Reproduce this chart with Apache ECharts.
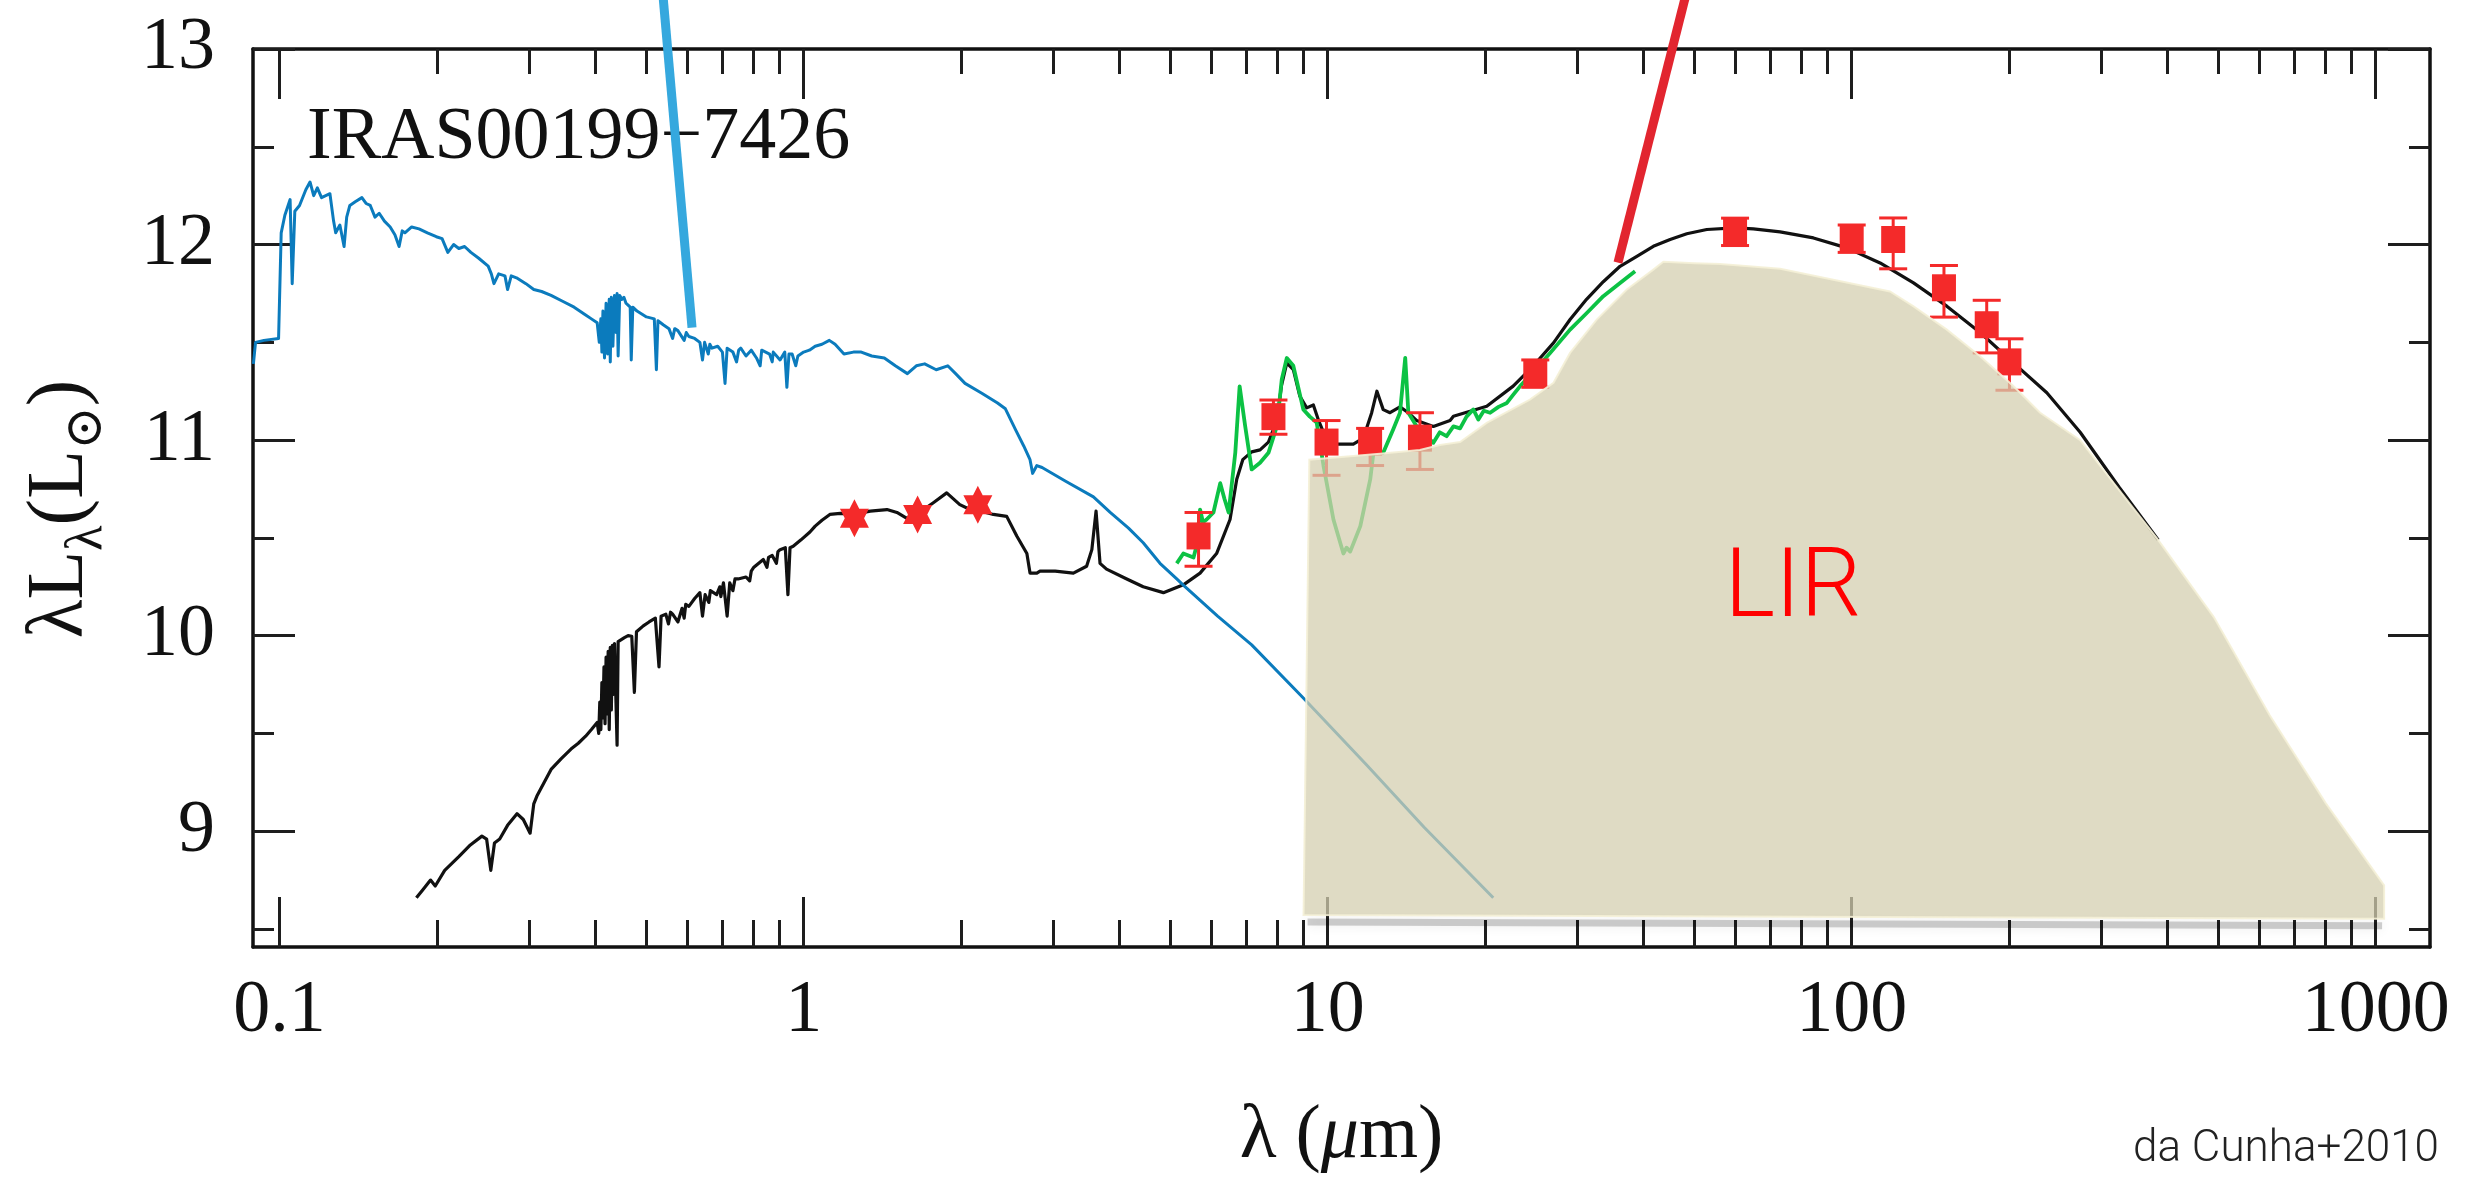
<!DOCTYPE html>
<html>
<head>
<meta charset="utf-8">
<title>IRAS00199-7426 SED</title>
<script src="https://cdn.jsdelivr.net/npm/echarts@6/dist/echarts.min.js"></script>
<style>
  html, body { margin: 0; padding: 0; background: #fff; }
  #chart { width: 2475px; height: 1178px; }
</style>
</head>
<body>
<div id="chart"></div>
<script>
// x is log10(wavelength / micron), y is log10(lambda L_lambda / L_sun).

// Tick wavelengths (micron)
const xMajorWavelengths = [0.1, 1, 10, 100, 1000];
const xMinorWavelengths = [0.2, 0.3, 0.4, 0.5, 0.6, 0.7, 0.8, 0.9,
  2, 3, 4, 5, 6, 7, 8, 9, 20, 30, 40, 50, 60, 70, 80, 90,
  200, 300, 400, 500, 600, 700, 800, 900];
const yMajorTicks = [9, 10, 11, 12, 13];
const yMinorTicks = [8.5, 9.5, 10.5, 11.5, 12.5];

// Unattenuated stellar emission [log lambda, log lambda L_lambda]
const stellarIntrinsic = [
  [-1.050, 11.39], [-1.046, 11.50], [-1.030, 11.51], [-1.002, 11.52], [-0.997, 12.06], [-0.990, 12.15],
  [-0.980, 12.23], [-0.976, 11.80], [-0.971, 12.17], [-0.962, 12.20], [-0.950, 12.28], [-0.942, 12.32],
  [-0.935, 12.25], [-0.928, 12.29], [-0.920, 12.24], [-0.904, 12.26], [-0.897, 12.12], [-0.893, 12.06],
  [-0.885, 12.10], [-0.877, 11.99], [-0.872, 12.14], [-0.866, 12.20], [-0.855, 12.22], [-0.843, 12.24],
  [-0.835, 12.21], [-0.827, 12.20], [-0.818, 12.14], [-0.810, 12.16], [-0.800, 12.12], [-0.789, 12.09],
  [-0.780, 12.05], [-0.772, 11.99], [-0.766, 12.07], [-0.761, 12.06], [-0.748, 12.09], [-0.734, 12.08],
  [-0.718, 12.06], [-0.701, 12.04], [-0.690, 12.03], [-0.679, 11.96], [-0.668, 12.00], [-0.658, 11.98],
  [-0.647, 11.99], [-0.635, 11.96], [-0.620, 11.93], [-0.602, 11.89], [-0.596, 11.85], [-0.591, 11.80],
  [-0.582, 11.85], [-0.570, 11.84], [-0.565, 11.77], [-0.558, 11.84], [-0.548, 11.83], [-0.530, 11.80],
  [-0.515, 11.77], [-0.500, 11.76], [-0.482, 11.74], [-0.460, 11.71], [-0.438, 11.68], [-0.416, 11.64],
  [-0.405, 11.62], [-0.394, 11.60], [-0.390, 11.50], [-0.387, 11.62], [-0.385, 11.45], [-0.383, 11.66],
  [-0.380, 11.42], [-0.377, 11.70], [-0.374, 11.44], [-0.371, 11.72], [-0.369, 11.40], [-0.367, 11.73],
  [-0.364, 11.48], [-0.361, 11.74], [-0.358, 11.55], [-0.356, 11.75], [-0.354, 11.43], [-0.351, 11.74],
  [-0.347, 11.72], [-0.343, 11.73], [-0.339, 11.70], [-0.335, 11.69], [-0.331, 11.68], [-0.329, 11.41],
  [-0.326, 11.68], [-0.318, 11.66], [-0.300, 11.63], [-0.285, 11.62], [-0.281, 11.36], [-0.278, 11.61],
  [-0.268, 11.59], [-0.257, 11.57], [-0.250, 11.52], [-0.246, 11.57], [-0.240, 11.56], [-0.228, 11.51],
  [-0.224, 11.55], [-0.219, 11.53], [-0.208, 11.52], [-0.198, 11.50], [-0.193, 11.41], [-0.189, 11.50],
  [-0.182, 11.44], [-0.179, 11.49], [-0.175, 11.47], [-0.164, 11.48], [-0.155, 11.45], [-0.150, 11.29],
  [-0.146, 11.47], [-0.135, 11.45], [-0.128, 11.40], [-0.124, 11.46], [-0.120, 11.47], [-0.110, 11.43],
  [-0.100, 11.46], [-0.090, 11.42], [-0.083, 11.38], [-0.080, 11.46], [-0.077, 11.47], [-0.065, 11.44],
  [-0.060, 11.40], [-0.058, 11.45], [-0.055, 11.46], [-0.045, 11.41], [-0.036, 11.45], [-0.032, 11.27],
  [-0.028, 11.44], [-0.022, 11.44], [-0.015, 11.38], [-0.011, 11.43], [0.000, 11.45], [0.011, 11.46],
  [0.022, 11.48], [0.035, 11.49], [0.049, 11.51], [0.060, 11.49], [0.077, 11.44], [0.095, 11.45],
  [0.110, 11.45], [0.130, 11.43], [0.154, 11.42], [0.175, 11.38], [0.198, 11.34], [0.215, 11.38],
  [0.231, 11.39], [0.253, 11.36], [0.275, 11.38], [0.290, 11.34], [0.308, 11.29], [0.340, 11.24],
  [0.370, 11.19], [0.385, 11.16], [0.405, 11.05], [0.420, 10.97], [0.432, 10.90], [0.437, 10.83],
  [0.445, 10.87], [0.455, 10.86], [0.500, 10.79], [0.553, 10.71], [0.585, 10.63], [0.620, 10.55],
  [0.648, 10.475], [0.680, 10.37], [0.712, 10.29], [0.724, 10.26], [0.790, 10.10], [0.855, 9.953],
  [0.954, 9.68], [1.074, 9.34], [1.184, 9.02], [1.316, 8.66]
];

// Best-fit attenuated model (stars + dust)
const totalModel = [
  [-0.739, 8.66], [-0.727, 8.70], [-0.712, 8.75], [-0.703, 8.72], [-0.685, 8.80], [-0.658, 8.87],
  [-0.636, 8.93], [-0.614, 8.975], [-0.605, 8.96], [-0.597, 8.80], [-0.590, 8.94], [-0.580, 8.96],
  [-0.565, 9.03], [-0.547, 9.09], [-0.535, 9.06], [-0.522, 8.99], [-0.515, 9.14], [-0.509, 9.18],
  [-0.495, 9.25], [-0.482, 9.316], [-0.463, 9.37], [-0.444, 9.42], [-0.430, 9.45], [-0.416, 9.486],
  [-0.405, 9.52], [-0.394, 9.556], [-0.391, 9.50], [-0.389, 9.66], [-0.387, 9.52], [-0.385, 9.76],
  [-0.383, 9.58], [-0.381, 9.84], [-0.379, 9.55], [-0.377, 9.89], [-0.375, 9.60], [-0.373, 9.92],
  [-0.371, 9.52], [-0.369, 9.94], [-0.367, 9.62], [-0.365, 9.95], [-0.363, 9.70], [-0.361, 9.96],
  [-0.358, 9.97], [-0.356, 9.44], [-0.354, 9.97], [-0.348, 9.98], [-0.342, 9.99], [-0.335, 10.00],
  [-0.328, 9.997], [-0.323, 9.71], [-0.319, 10.02], [-0.306, 10.05], [-0.295, 10.07], [-0.283, 10.09],
  [-0.276, 9.84], [-0.272, 10.10], [-0.263, 10.11], [-0.258, 10.06], [-0.254, 10.12], [-0.250, 10.11],
  [-0.240, 10.07], [-0.232, 10.14], [-0.228, 10.09], [-0.225, 10.16], [-0.219, 10.15], [-0.208, 10.19],
  [-0.198, 10.22], [-0.193, 10.10], [-0.188, 10.21], [-0.181, 10.17], [-0.178, 10.23], [-0.175, 10.24],
  [-0.166, 10.21], [-0.160, 10.25], [-0.158, 10.20], [-0.153, 10.27], [-0.146, 10.10], [-0.141, 10.27],
  [-0.135, 10.23], [-0.131, 10.29], [-0.125, 10.29], [-0.110, 10.30], [-0.103, 10.28], [-0.100, 10.33],
  [-0.095, 10.35], [-0.077, 10.39], [-0.070, 10.35], [-0.067, 10.40], [-0.060, 10.41], [-0.052, 10.37],
  [-0.049, 10.43], [-0.045, 10.44], [-0.035, 10.45], [-0.030, 10.21], [-0.026, 10.45], [-0.020, 10.457],
  [-0.005, 10.49], [0.012, 10.53], [0.022, 10.56], [0.035, 10.59], [0.050, 10.62], [0.070, 10.625],
  [0.095, 10.62], [0.127, 10.637], [0.159, 10.645], [0.178, 10.63], [0.197, 10.60], [0.216, 10.62],
  [0.2475, 10.68], [0.273, 10.73], [0.298, 10.67], [0.3175, 10.645], [0.333, 10.64], [0.362, 10.62],
  [0.3875, 10.61], [0.4067, 10.51], [0.426, 10.42], [0.432, 10.32], [0.445, 10.32], [0.451, 10.33],
  [0.480, 10.33], [0.5147, 10.32], [0.540, 10.355], [0.550, 10.44], [0.558, 10.637], [0.5656, 10.37],
  [0.578, 10.34], [0.6166, 10.29], [0.648, 10.25], [0.6865, 10.22], [0.7246, 10.26], [0.7565, 10.32],
  [0.788, 10.42], [0.8137, 10.594], [0.8265, 10.80], [0.838, 10.90], [0.855, 10.94], [0.871, 10.95],
  [0.887, 10.99], [0.903, 11.10], [0.912, 11.28], [0.922, 11.395], [0.9345, 11.36], [0.947, 11.224],
  [0.960, 11.165], [0.9727, 11.18], [0.982, 11.105], [0.992, 11.04], [1.005, 10.99], [1.017, 10.98],
  [1.049, 10.98], [1.068, 11.01], [1.084, 11.14], [1.094, 11.25], [1.106, 11.156], [1.119, 11.14],
  [1.138, 11.17], [1.154, 11.14], [1.170, 11.10], [1.2017, 11.07], [1.2336, 11.10], [1.240, 11.122],
  [1.3036, 11.173], [1.354, 11.276], [1.3926, 11.38], [1.431, 11.497], [1.4626, 11.617], [1.494, 11.72],
  [1.526, 11.81], [1.558, 11.889], [1.590, 11.94], [1.6215, 11.991], [1.6535, 12.026], [1.6853, 12.055],
  [1.7235, 12.077], [1.777, 12.085], [1.8124, 12.08], [1.8634, 12.065], [1.927, 12.034], [1.9906, 11.983],
  [2.0542, 11.906], [2.118, 11.804], [2.1815, 11.685], [2.245, 11.55], [2.3087, 11.395], [2.3724, 11.242],
  [2.436, 11.04], [2.51, 10.76], [2.585, 10.49]
];

// Mid-infrared spectrum
const irsSpectrum = [
  [0.712, 10.37], [0.7246, 10.42], [0.744, 10.40], [0.750, 10.46], [0.7565, 10.645], [0.762, 10.58],
  [0.769, 10.594], [0.782, 10.63], [0.795, 10.78], [0.803, 10.70], [0.811, 10.63], [0.8237, 10.935],
  [0.832, 11.275], [0.8427, 11.07], [0.855, 10.85], [0.871, 10.884], [0.887, 10.935], [0.903, 11.07],
  [0.9124, 11.31], [0.922, 11.42], [0.9345, 11.38], [0.9535, 11.157], [0.966, 11.12], [0.979, 11.09],
  [0.992, 10.87], [1.011, 10.594], [1.030, 10.42], [1.036, 10.45], [1.043, 10.43], [1.0623, 10.56],
  [1.0813, 10.80], [1.0873, 10.935], [1.106, 10.935], [1.125, 11.054], [1.138, 11.14], [1.148, 11.42],
  [1.154, 11.14], [1.170, 11.07], [1.189, 11.02], [1.2017, 10.986], [1.214, 11.04], [1.227, 11.02],
  [1.240, 11.07], [1.2527, 11.06], [1.265, 11.12], [1.278, 11.157], [1.2876, 11.105], [1.298, 11.15],
  [1.310, 11.14], [1.326, 11.17], [1.342, 11.19], [1.355, 11.235], [1.367, 11.275], [1.396, 11.36],
  [1.4245, 11.446], [1.4626, 11.565], [1.4945, 11.65], [1.526, 11.736], [1.558, 11.804], [1.5866, 11.864]
];

// Near-infrared photometry [wavelength (micron), log lambda L_lambda]
const photometryNIR = [[1.25, 10.60], [1.65, 10.62], [2.15, 10.67]];

// Mid/far-infrared photometry [wavelength (micron), log lambda L_lambda, lower error, upper error]
const photometryIR = [
  [5.67, 10.51, 0.155, 0.12], [7.88, 11.12, 0.09, 0.085], [9.95, 10.99, 0.17, 0.11],
  [12.05, 10.99, 0.12, 0.07], [15.0, 11.01, 0.16, 0.13], [24.9, 11.34, 0.07, 0.07],
  [59.9, 12.065, 0.07, 0.07], [100, 12.03, 0.07, 0.07], [120, 12.026, 0.15, 0.11],
  [150, 11.779, 0.15, 0.114], [181, 11.59, 0.144, 0.125], [200, 11.40, 0.145, 0.118]
];

// Integrated infrared luminosity region [log lambda, log lambda L_lambda]
const lirRegion = [
  [0.954, 8.571], [0.965, 10.90], [1.10, 10.93], [1.176, 10.95], [1.2145, 10.975], [1.2527, 10.99],
  [1.3036, 11.088], [1.386, 11.207], [1.431, 11.293], [1.4626, 11.446], [1.5135, 11.616], [1.571, 11.77],
  [1.6215, 11.872], [1.6406, 11.912], [1.70, 11.905], [1.749, 11.90], [1.8634, 11.876], [2.073, 11.76],
  [2.118, 11.684], [2.1815, 11.565], [2.245, 11.429], [2.309, 11.275], [2.3596, 11.14], [2.436, 11.0],
  [2.5847, 10.49], [2.691, 10.095], [2.7977, 9.593], [2.9042, 9.145], [3.016, 8.723], [3.016, 8.553]
];

// Callout strokes pointing at the stellar and dust components
const stellarCallout = [[-0.268, 13.26], [-0.213, 11.575]];
const dustCallout = [[1.682, 13.26], [1.554, 11.908]];

const X_MIN = -1.0508, X_MAX = 3.1036, Y_MIN = 8.408, Y_MAX = 13;
const SERIF = "'Liberation Serif', 'DejaVu Serif', serif";
const SANS = "Roboto, 'Liberation Sans', sans-serif";
const INK = '#111';
const RED = '#f42a2a';
const log10 = Math.log10;

const xMajor = xMajorWavelengths.map(log10);
const xMinor = xMinorWavelengths.map(log10);

const starPath = 'path://M0,-100L28.87,-50L86.6,-50L57.7,0L86.6,50L28.87,50L0,100L-28.87,50L-86.6,50L-57.7,0L-86.6,-50L-28.87,-50Z';

const hiddenLine = { show: false, onZero: false };
const frameLine = { show: true, onZero: false, lineStyle: { color: INK, width: 3.5 } };

function makeAxis(position, min, max, ticks, len, extra) {
  return Object.assign({
    type: 'value', position, min, max,
    axisLine: hiddenLine,
    axisTick: { show: true, inside: true, length: len, customValues: ticks,
      lineStyle: { color: '#1e1e1e', width: 3 } },
    axisLabel: { show: false },
    splitLine: { show: false }, minorTick: { show: false }, minorSplitLine: { show: false }
  }, extra || {});
}
const xAxis = (pos, ticks, len, extra) => makeAxis(pos, X_MIN, X_MAX, ticks, len, extra);
const yAxis = (pos, ticks, len, extra) => makeAxis(pos, Y_MIN, Y_MAX, ticks, len, extra);

const chart = echarts.init(document.getElementById('chart'), null, { renderer: 'canvas' });

chart.setOption({
  animation: false,
  backgroundColor: '#fff',
  grid: { left: 253, right: 45, top: 49, bottom: 231, containLabel: false, outerBoundsMode: 'none' },
  xAxis: [
    xAxis('bottom', xMajor, 50, {
      axisLine: frameLine,
      axisLabel: {
        show: true, customValues: xMajor, margin: 28,
        fontFamily: SERIF, fontSize: 74, color: INK,
        formatter: v => {
          const lam = Math.pow(10, Math.round(v));
          return lam < 1 ? lam.toFixed(1) : String(Math.round(lam));
        }
      },
      name: '{m|λ (}{i|μ}{m|m)}',
      nameLocation: 'middle', nameGap: 152,
      nameTextStyle: {
        fontFamily: SERIF, fontSize: 76, color: INK,
        rich: {
          m: { fontFamily: SERIF, fontSize: 76, color: INK },
          i: { fontFamily: SERIF, fontSize: 76, fontStyle: 'italic', color: INK }
        }
      }
    }),
    xAxis('bottom', xMinor, 27),
    xAxis('top', xMajor, 50, { axisLine: frameLine }),
    xAxis('top', xMinor, 25)
  ],
  yAxis: [
    yAxis('left', yMajorTicks, 42, {
      axisLine: frameLine,
      axisLabel: {
        show: true, customValues: yMajorTicks, margin: 38,
        fontFamily: SERIF, fontSize: 74, color: INK
      },
      name: '{m|λL}{s|λ}{m|(L}{s|⊙}{m|)}',
      nameLocation: 'middle', nameGap: 140, nameRotate: 90,
      nameTextStyle: {
        fontFamily: SERIF, fontSize: 80, color: INK, padding: [0, 22, 0, 0],
        rich: {
          m: { fontFamily: SERIF, fontSize: 80, lineHeight: 104, color: INK },
          s: { fontFamily: SERIF, fontSize: 52, verticalAlign: 'bottom', color: INK }
        }
      }
    }),
    yAxis('left', yMinorTicks, 21),
    yAxis('right', yMajorTicks, 42, { axisLine: frameLine }),
    yAxis('right', yMinorTicks, 21)
  ],
  graphic: [
    {
      type: 'text', z: 1, silent: true,
      style: { x: 307, y: 139, text: 'IRAS00199−7426', fontFamily: SERIF, fontSize: 74,
        fill: INK, align: 'left', verticalAlign: 'middle' }
    },
    {
      type: 'text', z: 20, silent: true,
      style: { x: 1793, y: 592, text: 'LIR', fontFamily: SANS,
        fontWeight: 300, fontSize: 96, fill: '#ff0000', align: 'center', verticalAlign: 'middle' }
    },
    {
      type: 'text', z: 20, silent: true,
      style: { x: 2439, y: 1150, text: 'da Cunha+2010', fontFamily: SANS,
        fontWeight: 300, fontSize: 44, fill: '#222', align: 'right', verticalAlign: 'middle' }
    }
  ],
  series: [
    {
      name: 'model', type: 'line', z: 2, data: totalModel,
      showSymbol: false, symbol: 'none', silent: true,
      lineStyle: { color: INK, width: 3.2, join: 'round' }
    },
    {
      name: 'stellar', type: 'line', z: 3, data: stellarIntrinsic,
      showSymbol: false, symbol: 'none', silent: true,
      lineStyle: { color: '#0b7bbd', width: 3, join: 'round' }
    },
    {
      name: 'irs', type: 'line', z: 3, data: irsSpectrum,
      showSymbol: false, symbol: 'none', silent: true,
      lineStyle: { color: '#0cc244', width: 3.8, join: 'round' }
    },
    {
      name: 'errors', type: 'custom', z: 4, silent: true,
      data: photometryIR.map(p => [log10(p[0]), p[1], p[2], p[3]]),
      encode: { x: 0, y: 1 },
      renderItem: (params, api) => {
        const x = api.value(0), y = api.value(1);
        const top = api.coord([x, y + api.value(3)]);
        const bot = api.coord([x, y - api.value(2)]);
        const half = 14;
        const style = { stroke: RED, lineWidth: 3 };
        return {
          type: 'group', children: [
            { type: 'line', shape: { x1: top[0], y1: top[1], x2: bot[0], y2: bot[1] }, style },
            { type: 'line', shape: { x1: top[0] - half, y1: top[1], x2: top[0] + half, y2: top[1] }, style },
            { type: 'line', shape: { x1: bot[0] - half, y1: bot[1], x2: bot[0] + half, y2: bot[1] }, style }
          ]
        };
      }
    },
    {
      name: 'photometry IR', type: 'scatter', z: 4, silent: true,
      data: photometryIR.map(p => [log10(p[0]), p[1]]),
      symbol: 'rect', symbolSize: [24, 27],
      itemStyle: { color: RED, opacity: 1 }
    },
    {
      name: 'photometry NIR', type: 'scatter', z: 4, silent: true,
      data: photometryNIR.map(p => [log10(p[0]), p[1]]),
      symbol: starPath, symbolSize: [29, 38],
      itemStyle: { color: RED, opacity: 1 }
    },
    {
      name: 'LIR', type: 'custom', z: 5, silent: true, clip: false,
      data: [lirRegion[0]],
      encode: { x: 0, y: 1 },
      renderItem: (params, api) => {
        const pts = lirRegion.map(p => api.coord(p));
        const bl = pts[0], br = pts[pts.length - 1];
        return {
          type: 'group', children: [
            // soft drop shadow under the lower edge
            { type: 'line', shape: { x1: bl[0] + 4, y1: bl[1] + 7, x2: br[0] - 2, y2: br[1] + 7 },
              style: { stroke: 'rgba(0,0,0,0.18)', lineWidth: 7, shadowBlur: 12, shadowColor: 'rgba(0,0,0,0.45)' } },
            { type: 'polygon', shape: { points: pts },
              style: { fill: 'rgba(212,206,176,0.74)', stroke: 'rgba(244,240,214,0.9)', lineWidth: 2 } }
          ]
        };
      }
    },
    {
      name: 'stellar callout', type: 'line', z: 10, clip: false, silent: true,
      data: stellarCallout, showSymbol: false, symbol: 'none',
      lineStyle: { color: '#35a8de', width: 9, cap: 'butt' }
    },
    {
      name: 'dust callout', type: 'line', z: 10, clip: false, silent: true,
      data: dustCallout, showSymbol: false, symbol: 'none',
      lineStyle: { color: '#e2252f', width: 9, cap: 'butt' }
    }
  ]
});
</script>
</body>
</html>
